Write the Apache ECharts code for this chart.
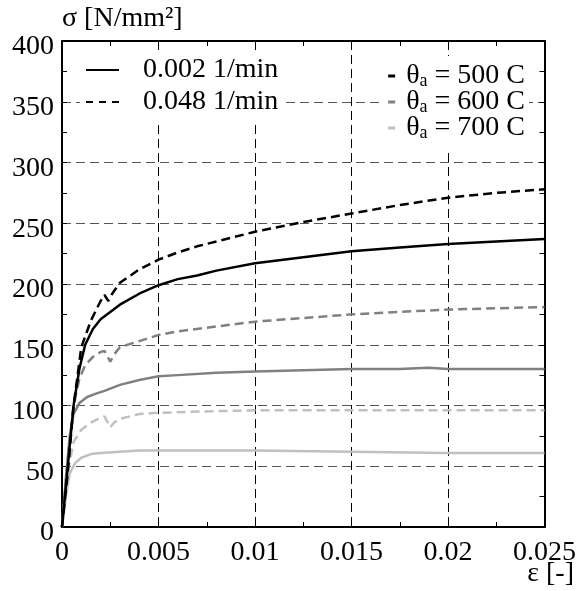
<!DOCTYPE html>
<html><head><meta charset="utf-8">
<script src="https://cdn.jsdelivr.net/npm/echarts@6/dist/echarts.min.js"></script>
<style>html,body{margin:0;padding:0;background:#fff}#c{width:579px;height:591px}</style>
</head><body><div id="c"></div>
<script>
// strain values and stress values [N/mm2]
const eps500fast = [0,0.0003,0.0006,0.001,0.0015,0.002,0.0022,0.0024,0.0026,0.003,0.004,0.005,0.006,0.007,0.008,0.01,0.0125,0.015,0.0175,0.02,0.0225,0.025];
const sig500fast = [0,45,100,148,170,186,191,186,192,201,212,220,226,231,235,243,251,258,265,271,275,278];
const eps500slow = [0,0.0003,0.0006,0.0009,0.0012,0.0016,0.002,0.0025,0.003,0.004,0.005,0.006,0.007,0.008,0.01,0.0125,0.015,0.0175,0.02,0.0225,0.025];
const sig500slow = [0,50,100,130,150,163,171,177,183,192,199,204,207,211,217,222,227,230,233,235,237];
const eps600fast = [0,0.0003,0.0006,0.0009,0.0012,0.0016,0.002,0.0022,0.0025,0.0027,0.003,0.004,0.005,0.006,0.008,0.01,0.0125,0.015,0.0175,0.02,0.0225,0.025];
const sig600fast = [0,55,100,122,133,140,144,145,136,142,148,153,158,161,165,169,172,175,177,179,180,181];
const eps600slow = [0,0.0002,0.0004,0.0006,0.0009,0.0013,0.0018,0.0022,0.003,0.004,0.005,0.006,0.008,0.01,0.0125,0.015,0.0175,0.019,0.02,0.0225,0.025];
const sig600slow = [0,40,75,93,102,107,110,112,117,121,124,125,127,128,129,130,130,131,130,130,130];
const eps700fast = [0,0.0003,0.0006,0.001,0.0015,0.002,0.0022,0.0025,0.0027,0.003,0.004,0.005,0.007,0.01,0.015,0.02,0.025];
const sig700fast = [0,45,70,80,86,90,91,82,86,89,93,94,95,96,96,96,96];
const eps700slow = [0,0.0002,0.0004,0.0007,0.001,0.0015,0.002,0.003,0.004,0.005,0.008,0.01,0.015,0.02,0.025];
const sig700slow = [0,25,44,53,57,60,61,62,63,63,63,63,62,61,61];

const rateLabels = ['0.002 1/min','0.048 1/min'];
const tempLabels = ['500','600','700'];

const FONT = 'Liberation Serif';
const FS = 28;
const C500 = '#000000', C600 = '#808080', C700 = '#c0c0c0';
const pairs = (xs, ys) => xs.map((x,i)=>[x,ys[i]]);
const dash = [9,5];

function curve(name, xs, ys, color, dashed) {
  return {type:'line', name, data: pairs(xs,ys), symbol:'none', smooth:false, z:3,
    lineStyle:{color, width:2.5, type: dashed ? dash : 'solid'}, itemStyle:{color}};
}
const tempNames = tempLabels.map(t=>'T'+t);
const tempColors = [C500, C600, C700];

const chart = echarts.init(document.getElementById('c'));
const axisCommon = {
  axisLine:{show:true, onZero:false, lineStyle:{color:'#000', width:2}},
  axisTick:{show:true, inside:true, length:5, lineStyle:{color:'#000', width:1}},
  minorTick:{show:true, splitNumber:2, length:5, lineStyle:{color:'#000', width:1}},
};
const solidIcon = 'path://M0,0h33v2.2h-33z';
const dashIcon = 'path://M0,0h7v2.2h-7z M13,0h7v2.2h-7z M26,0h7v2.2h-7z';
chart.setOption({
  animation:false,
  backgroundColor:'#fff',
  textStyle:{fontFamily:FONT},
  grid:{left:62, right:34, top:41, bottom:64},
  xAxis:[
    Object.assign({type:'value', min:0, max:0.025, interval:0.005, position:'bottom',
      axisLabel:{fontFamily:FONT, fontSize:FS, color:'#000', margin:12, formatter:v=>String(+v.toFixed(3))},
      splitLine:{show:true, lineStyle:{color:'#000', width:1, type:[9,5]}}}, axisCommon),
    Object.assign({type:'value', min:0, max:0.025, interval:0.005, position:'top',
      axisLabel:{show:false}, splitLine:{show:false}}, axisCommon)
  ],
  yAxis:[
    Object.assign({type:'value', min:0, max:400, interval:50, position:'left',
      axisLabel:{fontFamily:FONT, fontSize:FS, color:'#000', margin:8, verticalAlign:'top', lineHeight:12},
      splitLine:{show:true, lineStyle:{color:'#555', width:1, type:[9,5]}}}, axisCommon),
    Object.assign({type:'value', min:0, max:400, interval:50, position:'right',
      axisLabel:{show:false}, splitLine:{show:false}}, axisCommon)
  ],
  legend:[
    {data:[{name:rateLabels[0], icon:solidIcon},{name:rateLabels[1], icon:dashIcon}],
      orient:'vertical', left:80, top:52, itemWidth:33, itemHeight:2.2, itemGap:4,
      backgroundColor:'#fff', padding:[4,6,4,6],
      textStyle:{fontFamily:FONT, fontSize:FS, lineHeight:28, color:'#000', padding:[0,0,0,19]}},
    {data:tempNames, orient:'vertical', right:50, top:56, itemWidth:7, itemHeight:3, itemGap:-4, icon:'rect',
      backgroundColor:'#fff', padding:[4,4,6,8],
      formatter: n => '{t|θ}{s|a}{t| = ' + n.slice(1) + ' C}',
      textStyle:{fontFamily:FONT, fontSize:FS, color:'#000', padding:[0,0,0,6],
        rich:{t:{fontFamily:FONT, fontSize:FS, lineHeight:28, color:'#000'},
              s:{fontFamily:FONT, fontSize:18, lineHeight:16, color:'#000', verticalAlign:'bottom', padding:[12,0,0,0]}}}}
  ],
  graphic:[
    {type:'text', left:62, top:5, style:{text:'σ [N/mm²]', font:FS+'px "Liberation Serif"', fill:'#000'}},
    {type:'text', right:5, top:560, style:{text:'ε [-]', font:FS+'px "Liberation Serif"', fill:'#000'}}
  ],
  series:[
    {type:'line', name:rateLabels[0], data:[], symbol:'none', itemStyle:{color:'#000'}},
    {type:'line', name:rateLabels[1], data:[], symbol:'none', itemStyle:{color:'#000'}},
    ...tempNames.map((n,i)=>({type:'line', name:n, data:[], symbol:'none', lineStyle:{color:tempColors[i]}, itemStyle:{color:tempColors[i]}})),
    curve('700 slow', eps700slow, sig700slow, C700, false),
    curve('700 fast', eps700fast, sig700fast, C700, true),
    curve('600 slow', eps600slow, sig600slow, C600, false),
    curve('600 fast', eps600fast, sig600fast, C600, true),
    curve('500 slow', eps500slow, sig500slow, C500, false),
    curve('500 fast', eps500fast, sig500fast, C500, true)
  ]
});
</script></body></html>
